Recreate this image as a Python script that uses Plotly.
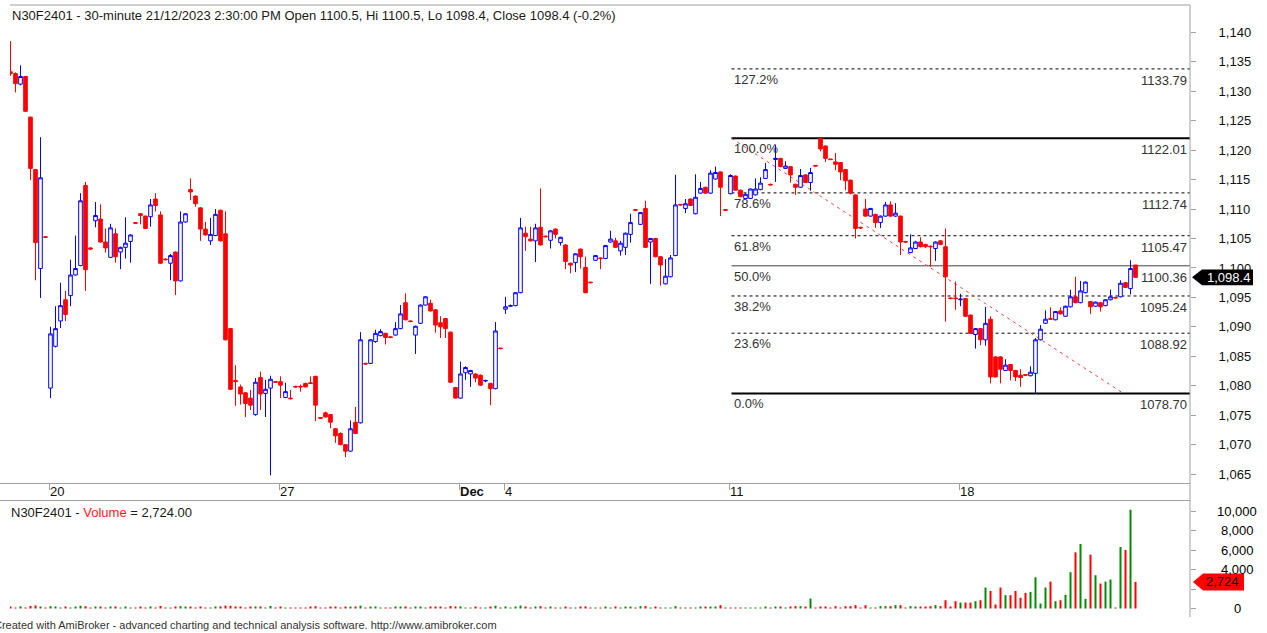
import plotly.graph_objects as go

# ---------------- data ----------------
symbol = "N30F2401"

opens = [
    1133.3, 1133.0, 1131.2, 1132.5, 1125.6, 1116.7, 1099.9, 1105.3,
    1079.6, 1086.7, 1091.0, 1094.6, 1095.3, 1098.8, 1100.4, 1114.0, 1103.4,
    1108.0, 1108.3, 1104.4, 1101.8, 1105.8, 1102.7, 1103.5, 1104.5, 1107.7,
    1109.2, 1108.8, 1108.7, 1111.7, 1109.0, 1101.5, 1100.8, 1102.7, 1097.8,
    1107.8, 1113.3, 1112.2, 1110.2, 1106.6, 1104.6, 1105.5, 1109.8, 1105.8,
    1089.7, 1080.9, 1079.8, 1078.8, 1077.9, 1075.1, 1081.4, 1078.7, 1079.6, 1080.7,
    1080.7, 1078.0, 1077.9, 1079.9, 1079.9, 1080.4, 1080.5, 1081.6, 1074.6,
    1075.4, 1075.1, 1072.7, 1071.9, 1070.0, 1068.9, 1073.8, 1073.7, 1083.8,
    1083.8, 1087.5, 1088.5, 1088.9, 1088.3, 1088.6, 1089.7, 1094.1, 1091.0,
    1088.6, 1090.6, 1093.7, 1094.0, 1092.9, 1090.7, 1091.4, 1089.1, 1079.7,
    1077.9, 1082.2, 1082.0, 1082.0, 1081.8, 1080.8, 1080.4, 1079.5, 1086.4,
    1093.0, 1093.5, 1093.6, 1095.8, 1105.9, 1104.9, 1104.6, 1106.9, 1105.4,
    1104.7, 1106.6, 1104.3, 1103.9, 1100.8, 1100.9, 1103.2, 1100.1, 1097.6,
    1101.3, 1101.7, 1101.6, 1104.4, 1104.6, 1102.9, 1103.5, 1105.7, 1109.9,
    1107.4, 1110.1, 1104.4, 1105.0, 1101.9, 1097.3, 1098.5, 1102.1, 1110.8,
    1110.1, 1111.7, 1109.2, 1112.7, 1113.7, 1112.7, 1115.1, 1116.3, 1109.9,
    1112.6, 1115.6, 1113.2, 1111.8, 1111.8, 1112.4, 1113.3, 1115.2, 1114.2,
    1118.4, 1118.6, 1116.9, 1117.2, 1114.2, 1113.7, 1115.8, 1114.5, 1117.4,
    1122.0, 1120.7, 1118.5, 1118.0, 1117.9, 1116.7, 1114.9, 1112.4, 1106.9,
    1110.0, 1108.8, 1109.1, 1107.7, 1108.8, 1110.7, 1108.8, 1108.8, 1104.5,
    1102.6, 1103.3, 1104.4, 1104.0, 1103.7, 1103.3, 1104.6, 1103.6, 1094.9, 1094.9,
    1094.6, 1094.8, 1092.0, 1088.7, 1089.7, 1087.8, 1091.3, 1084.9, 1084.9,
    1082.6, 1083.6, 1082.6, 1081.8, 1081.9, 1081.7, 1082.1, 1087.8, 1090.6,
    1091.4, 1091.2, 1092.7, 1091.8, 1093.4, 1095.1, 1094.1, 1095.8, 1094.3,
    1093.5, 1094.1, 1093.6, 1094.6, 1095.0, 1095.1, 1097.5, 1096.5, 1100.5,
]

highs = [
    1138.5, 1133.2, 1134.4, 1132.6, 1125.7, 1116.8, 1122.2, 1105.3,
    1090.0, 1093.5, 1097.5, 1096.1, 1101.4, 1105.5, 1112.7, 1114.6, 1103.5,
    1111.2, 1110.8, 1106.7, 1107.5, 1106.7, 1103.6, 1108.6, 1105.7, 1107.7,
    1109.3, 1108.9, 1111.7, 1112.7, 1109.6, 1101.6, 1102.4, 1102.8, 1109.6,
    1109.3, 1115.2, 1112.3, 1110.3, 1107.8, 1108.5, 1110.0, 1109.9, 1109.6,
    1089.8, 1083.5, 1080.2, 1078.9, 1079.3, 1081.3, 1082.4, 1081.0, 1081.7, 1080.8,
    1081.6, 1080.5, 1079.3, 1080.0, 1080.2, 1080.5, 1081.6, 1081.7, 1074.6,
    1075.6, 1075.2, 1072.8, 1072.1, 1070.1, 1074.1, 1076.4, 1089.1, 1083.9,
    1087.9, 1089.5, 1089.6, 1089.0, 1088.4, 1090.8, 1093.7, 1095.7, 1091.1,
    1090.2, 1093.8, 1095.2, 1094.6, 1093.0, 1091.8, 1091.5, 1089.2, 1079.8,
    1084.1, 1083.3, 1082.7, 1082.1, 1081.9, 1081.0, 1080.5, 1090.8, 1086.4,
    1095.1, 1093.8, 1095.9, 1108.5, 1107.0, 1107.0, 1107.5, 1113.5, 1105.5,
    1106.4, 1106.7, 1105.3, 1104.0, 1100.9, 1102.5, 1103.3, 1101.9, 1097.6,
    1102.2, 1101.8, 1103.9, 1106.3, 1105.1, 1104.6, 1106.0, 1109.2, 1110.0,
    1109.5, 1111.4, 1105.1, 1105.1, 1102.0, 1101.5, 1102.2, 1115.8, 1110.8,
    1111.7, 1111.8, 1115.9, 1114.6, 1113.8, 1116.6, 1117.2, 1116.4, 1110.0,
    1115.9, 1115.7, 1113.3, 1112.7, 1113.5, 1115.2, 1115.4, 1117.8, 1114.3,
    1120.9, 1118.7, 1118.1, 1117.3, 1114.3, 1116.8, 1115.9, 1117.0, 1117.4,
    1122.01, 1120.8, 1118.5, 1119.5, 1118.0, 1116.8, 1115.0, 1112.5, 1107.0,
    1111.7, 1110.2, 1109.2, 1108.9, 1111.2, 1111.3, 1111.0, 1108.9, 1104.6,
    1105.7, 1104.6, 1105.2, 1104.1, 1103.8, 1104.5, 1104.7, 1106.7, 1095.0, 1097.7,
    1095.6, 1094.9, 1092.1, 1089.8, 1089.8, 1093.4, 1091.8, 1085.0, 1085.0,
    1084.5, 1083.7, 1082.7, 1082.8, 1082.0, 1083.3, 1088.1, 1090.3, 1092.8,
    1093.3, 1092.7, 1093.3, 1093.6, 1096.3, 1098.5, 1097.8, 1097.7, 1094.4,
    1094.3, 1094.2, 1094.7, 1096.3, 1095.1, 1097.9, 1097.6, 1101.3, 1100.5,
]

lows = [
    1132.6, 1129.8, 1131.0, 1126.5, 1114.9, 1097.9, 1094.9, 1105.1,
    1077.9, 1086.5, 1089.8, 1091.0, 1093.5, 1098.7, 1100.3, 1096.1, 1103.1,
    1106.9, 1104.3, 1102.6, 1101.7, 1100.9, 1099.8, 1101.6, 1100.9, 1107.5,
    1107.4, 1106.6, 1107.0, 1109.6, 1100.7, 1101.3, 1097.9, 1095.4, 1097.7,
    1107.7, 1111.5, 1110.4, 1104.6, 1105.5, 1103.9, 1105.4, 1104.5, 1087.7,
    1079.3, 1076.6, 1076.8, 1074.7, 1075.9, 1074.9, 1075.9, 1074.7, 1064.8, 1080.5,
    1077.9, 1077.9, 1077.7, 1079.7, 1079.0, 1079.7, 1080.3, 1074.0, 1074.4,
    1074.6, 1072.8, 1070.3, 1069.9, 1067.9, 1068.8, 1071.8, 1073.6, 1083.6,
    1083.7, 1087.3, 1088.4, 1087.0, 1088.1, 1088.5, 1089.6, 1091.1, 1090.8,
    1085.4, 1090.5, 1093.6, 1092.6, 1089.0, 1088.1, 1088.1, 1080.5, 1077.8,
    1077.8, 1081.0, 1079.8, 1080.6, 1080.0, 1080.6, 1076.7, 1079.4, 1086.2,
    1092.2, 1093.4, 1093.5, 1095.7, 1102.9, 1104.5, 1101.0, 1103.8, 1105.2,
    1103.3, 1105.0, 1103.8, 1099.8, 1099.1, 1099.3, 1099.9, 1095.7, 1097.4,
    1101.2, 1099.8, 1101.5, 1104.3, 1103.4, 1102.1, 1102.2, 1104.3, 1109.7,
    1107.3, 1103.4, 1097.3, 1101.8, 1097.0, 1097.2, 1098.4, 1102.0, 1110.6,
    1109.3, 1110.5, 1109.1, 1112.6, 1112.6, 1112.6, 1115.0, 1108.8, 1109.7,
    1112.5, 1113.1, 1112.0, 1111.7, 1111.7, 1112.3, 1113.2, 1115.1, 1114.0,
    1114.6, 1117.1, 1116.8, 1114.5, 1112.4, 1113.6, 1114.4, 1113.1, 1117.2,
    1119.8, 1118.0, 1118.3, 1116.6, 1114.9, 1113.2, 1112.5, 1105.0, 1106.6,
    1108.7, 1108.7, 1106.8, 1106.8, 1108.7, 1108.7, 1108.7, 1102.2, 1104.3,
    1102.5, 1103.2, 1103.5, 1103.4, 1100.2, 1101.2, 1103.9, 1090.9, 1094.7, 1092.9,
    1093.5, 1091.7, 1088.8, 1086.3, 1086.9, 1086.8, 1080.4, 1081.4, 1080.4,
    1082.5, 1080.9, 1080.8, 1079.8, 1081.7, 1081.6, 1078.7, 1087.7, 1090.5,
    1091.2, 1091.1, 1092.1, 1091.7, 1093.3, 1094.0, 1094.0, 1095.7, 1092.2,
    1093.4, 1092.6, 1093.5, 1094.5, 1094.8, 1095.0, 1096.6, 1095.5, 1098.4,
]

closes = [
    1133.0, 1131.3, 1132.5, 1126.6, 1116.9, 1104.3, 1115.3, 1105.2,
    1088.8, 1089.7, 1093.6, 1092.1, 1098.8, 1099.9, 1111.4, 1099.7, 1103.2,
    1108.9, 1104.4, 1103.4, 1106.8, 1101.9, 1103.5, 1104.2, 1105.6, 1107.6,
    1108.9, 1106.7, 1110.7, 1110.6, 1100.8, 1101.4, 1102.1, 1097.8, 1107.8,
    1109.2, 1112.9, 1110.9, 1106.6, 1105.6, 1105.7, 1109.1, 1104.6, 1087.8,
    1079.4, 1080.7, 1078.6, 1077.0, 1076.7, 1080.6, 1078.6, 1079.4, 1081.1, 1080.6,
    1080.1, 1079.0, 1077.8, 1079.8, 1079.8, 1079.8, 1080.4, 1076.7, 1074.5,
    1074.7, 1073.8, 1071.5, 1070.0, 1068.9, 1072.7, 1071.9, 1087.8, 1083.7,
    1087.8, 1088.9, 1089.2, 1088.2, 1088.2, 1089.7, 1092.2, 1091.2, 1090.9,
    1090.1, 1093.7, 1095.1, 1092.7, 1090.3, 1090.0, 1089.7, 1080.6, 1077.9,
    1082.0, 1083.1, 1082.6, 1081.3, 1080.1, 1080.9, 1079.5, 1089.3, 1086.3,
    1093.4, 1093.6, 1095.8, 1106.8, 1105.3, 1104.6, 1106.8, 1103.9, 1105.3,
    1106.3, 1105.7, 1105.2, 1101.1, 1100.5, 1102.4, 1101.9, 1095.8, 1097.5,
    1102.1, 1101.6, 1103.8, 1104.9, 1103.5, 1104.2, 1105.9, 1107.7, 1109.8,
    1109.4, 1103.5, 1105.0, 1101.9, 1100.5, 1098.6, 1101.7, 1110.7, 1110.7,
    1110.9, 1110.6, 1112.0, 1113.5, 1112.7, 1116.1, 1116.2, 1113.7, 1109.8,
    1115.7, 1113.2, 1112.1, 1112.5, 1113.4, 1113.4, 1114.4, 1116.7, 1114.1,
    1118.6, 1117.2, 1117.3, 1115.8, 1113.7, 1115.7, 1114.5, 1116.2, 1117.3,
    1120.2, 1118.6, 1118.4, 1117.6, 1116.3, 1114.8, 1112.7, 1106.7, 1106.8,
    1108.8, 1110.1, 1107.7, 1108.8, 1110.7, 1108.8, 1109.3, 1104.4, 1104.4,
    1103.4, 1104.4, 1103.6, 1103.6, 1103.6, 1104.4, 1104.0, 1098.5, 1094.8, 1094.8,
    1094.7, 1091.8, 1088.9, 1089.7, 1087.8, 1090.6, 1081.5, 1081.5, 1082.8,
    1083.5, 1082.6, 1081.5, 1081.4, 1081.8, 1082.3, 1087.8, 1089.6, 1091.3,
    1091.3, 1092.6, 1092.2, 1093.5, 1095.1, 1094.1, 1096.1, 1097.6, 1093.4,
    1094.2, 1093.4, 1094.6, 1095.1, 1094.9, 1097.4, 1096.7, 1099.9, 1098.4,
]

volumes = [
    180, 60, 220, 90, 260, 310, 150, 40,
    240, 120, 90, 200, 70, 150, 280, 230, 30,
    110, 190, 60, 130, 170, 50, 140, 100, 40,
    120, 80, 210, 60, 260, 30, 90, 180, 240,
    110, 150, 70, 120, 60, 100, 160, 220, 300,
    270, 140, 180, 90, 120, 210, 150, 80, 260, 40,
    130, 70, 50, 40, 60, 90, 110, 230, 50,
    100, 140, 120, 90, 180, 150, 160, 290, 60,
    200, 120, 80, 100, 40, 130, 170, 210, 50,
    150, 190, 90, 120, 160, 110, 100, 250, 180,
    220, 100, 80, 110, 90, 40, 150, 280, 70,
    130, 60, 140, 300, 170, 90, 120, 240, 50,
    110, 80, 90, 180, 60, 100, 130, 220, 50,
    100, 60, 120, 80, 110, 90, 140, 170, 40,
    240, 240, 60, 140, 60, 100, 40, 240, 50,
    60, 80, 60, 140, 140, 140, 140, 340, 50,
    60, 40, 80, 40, 60, 50, 40, 140, 30,
    140, 140, 40, 140, 240, 240, 140, 1020, 30,
    140, 140, 40, 240, 40, 240, 240, 340, 40,
    340, 40, 40, 240, 240, 240, 340, 340, 40,
    240, 140, 140, 140, 240, 340, 240, 850, 170, 750,
    610, 610, 610, 750, 850, 2150, 1800, 410, 2150,
    1370, 1370, 1800, 1100, 1600, 1700, 3200, 510, 2150,
    2760, 750, 850, 1400, 3720, 5760, 6620, 990, 5520,
    3410, 2560, 2760, 2970, 60, 6300, 6000, 10130, 2724,
]

day_labels = ["20", "27", "Dec", "4", "11", "18"]
day_start_bars = [8, 54, 90, 99, 144, 190]

fib_labels = ["127.2%", "100.0%", "78.6%", "61.8%", "50.0%", "38.2%", "23.6%", "0.0%"]
fib_values = [1133.79, 1122.01, 1112.74, 1105.47, 1100.36, 1095.24, 1088.92, 1078.70]
fib_anchor_bar = 144.2      # bar where the swing high / Fib drawing starts
trend_end_bar = 222.6       # bar where the red trend line reaches the 0% level

price_ticks = list(range(1065, 1145, 5))
volume_ticks = [0, 2000, 4000, 6000, 8000, 10000]

N = len(closes)
assert len(opens) == len(highs) == len(lows) == len(volumes) == N
bars = list(range(N))

# ---------------- layout geometry ----------------
W, H = 1267, 633
ML, MR, MT, MB = 10, 77, 5, 16
PW, PH = W - ML - MR, H - MT - MB
FONT = "Liberation Sans, Arial, sans-serif"
GRAY = "#a0a0a0"

def fx(px):
    return (px - ML) / PW

def fy(py):
    return (H - MB - py) / PH

X_RANGE = [-0.1, 235.9]
PRICE_RANGE = [1063.49, 1144.64]
VOL_RANGE = [-872, 11077]

RED = "#ff0000"
BLUE = "#0000ff"
GREEN = "#008a00"

vol_colors = [GREEN if c >= o else RED for o, c in zip(opens, closes)]

fig = go.Figure()

fig.add_trace(go.Candlestick(
    x=bars, open=opens, high=highs, low=lows, close=closes,
    increasing=dict(line=dict(color=BLUE, width=1), fillcolor="#ffffff"),
    decreasing=dict(line=dict(color=RED, width=1), fillcolor=RED),
    whiskerwidth=0, xaxis="x", yaxis="y", hoverinfo="skip", showlegend=False,
))

fig.add_trace(go.Bar(
    x=bars, y=volumes, width=0.4, marker=dict(color=vol_colors, line=dict(width=0)),
    xaxis="x2", yaxis="y2", hoverinfo="skip", showlegend=False,
))

shapes = []
annotations = []

# Fibonacci levels
for lab, val in zip(fib_labels, fib_values):
    if lab in ("100.0%", "0.0%"):
        line = dict(color="#000000", width=2)
    elif lab == "50.0%":
        line = dict(color="#404040", width=1)
    else:
        line = dict(color="#000000", width=1, dash="3px,3px")
    shapes.append(dict(type="line", xref="x", yref="y", x0=fib_anchor_bar, x1=X_RANGE[1],
                       y0=val, y1=val, line=line, layer="below"))
    annotations.append(dict(xref="x", yref="y", x=fib_anchor_bar + 0.1, y=val, text=lab,
                            xanchor="left", yanchor="top", showarrow=False, yshift=-1,
                            font=dict(family=FONT, size=13, color="#333333")))
    annotations.append(dict(xref="x", yref="y", x=X_RANGE[1] - 0.3, y=val, text=f"{val:.2f}",
                            xanchor="right", yanchor="top", showarrow=False, yshift=-2,
                            font=dict(family=FONT, size=13, color="#333333")))

# red dashed trend line from swing high to the 0% level
shapes.append(dict(type="line", xref="x", yref="y", x0=fib_anchor_bar, y0=fib_values[1],
                   x1=trend_end_bar, y1=fib_values[-1],
                   line=dict(color="#ff4040", width=1, dash="3px,4px"), layer="below"))

# panel borders
for py, x_start in ((5, 10), (483.5, 0), (500.5, 0)):
    shapes.append(dict(type="line", xref="paper", yref="paper", x0=fx(x_start), x1=1,
                       y0=fy(py), y1=fy(py), line=dict(color=GRAY, width=1)))
shapes.append(dict(type="line", xref="paper", yref="paper", x0=1, x1=1, y0=0, y1=1,
                   line=dict(color=GRAY, width=1)))

# last-price marker (black arrow)
last = closes[-1]
h = 1.33
tip, base, end = fx(1192), fx(1202), fx(1253)
shapes.append(dict(type="path", xref="paper", yref="y", layer="above",
                   path=f"M {tip},{last} L {base},{last + h} L {end},{last + h} "
                        f"L {end},{last - h} L {base},{last - h} Z",
                   fillcolor="#000000", line=dict(width=0)))
annotations.append(dict(xref="paper", yref="y", x=fx(1228), y=last, text=f"{last:,.1f}",
                        showarrow=False, xanchor="center", yanchor="middle",
                        font=dict(family=FONT, size=13, color="#ffffff")))

# last-volume marker (red arrow)
lv = volumes[-1]
hv = 870
tip, base, end = fx(1193), fx(1203), fx(1244)
shapes.append(dict(type="path", xref="paper", yref="y2", layer="above",
                   path=f"M {tip},{lv} L {base},{lv + hv} L {end},{lv + hv} "
                        f"L {end},{lv - hv} L {base},{lv - hv} Z",
                   fillcolor=RED, line=dict(width=0)))
annotations.append(dict(xref="paper", yref="y2", x=fx(1222.5), y=lv, text=f"{lv:,}",
                        showarrow=False, xanchor="center", yanchor="middle",
                        font=dict(family=FONT, size=13, color="#000000")))

# volume axis labels (centred like AmiBroker), 2,000 is hidden by the marker
for v in volume_ticks:
    if v == 2000:
        continue
    annotations.append(dict(xref="paper", yref="y2", x=fx(1237), y=v, text=f"{v:,}",
                            showarrow=False, xanchor="center", yanchor="middle",
                            font=dict(family=FONT, size=13, color="#000000")))

# titles
title = (f"{symbol} - 30-minute 21/12/2023 2:30:00 PM Open {opens[-1]}, Hi {highs[-1]}, "
         f"Lo {lows[-1]}, Close {closes[-1]} (-0.2%)")
annotations.append(dict(xref="paper", yref="paper", x=0, y=fy(6), text=title,
                        xanchor="left", yanchor="top", showarrow=False,
                        font=dict(family=FONT, size=13, color="#1a1a1a")))
annotations.append(dict(xref="paper", yref="paper", x=fx(9), y=fy(502.5),
                        text=f"{symbol} - <span style='color:#ff2020'>Volume</span> = {lv:,.2f}",
                        xanchor="left", yanchor="top", showarrow=False,
                        font=dict(family=FONT, size=13, color="#1a1a1a")))
annotations.append(dict(xref="paper", yref="paper", x=fx(-8), y=fy(625),
                        text="Created with AmiBroker - advanced charting and technical analysis software. "
                             "http://www.amibroker.com",
                        xanchor="left", yanchor="middle", showarrow=False,
                        font=dict(family=FONT, size=11, color="#333333")))

tick_text = [f"<b>{d}</b>" if d == "Dec" else d for d in day_labels]

fig.update_layout(
    width=W, height=H, autosize=False,
    margin=dict(l=ML, r=MR, t=MT, b=MB, pad=0),
    paper_bgcolor="#ffffff", plot_bgcolor="#ffffff",
    showlegend=False, boxgap=0.2, boxgroupgap=0.1,
    shapes=shapes, annotations=annotations,
    xaxis=dict(domain=[0, 1], anchor="y", range=X_RANGE, showgrid=False, zeroline=False,
               showline=False, ticks="outside", ticklen=6, tickcolor=GRAY, tickwidth=1,
               tickvals=[b - 0.2 for b in day_start_bars], ticktext=tick_text,
               ticklabelposition="outside right", ticklabelstandoff=-4,
               tickfont=dict(family=FONT, size=13, color="#111111"),
               rangeslider=dict(visible=False), fixedrange=True),
    xaxis2=dict(domain=[0, 1], anchor="y2", matches="x", range=X_RANGE, showgrid=False,
                zeroline=False, showline=False, showticklabels=False, ticks="",
                rangeslider=dict(visible=False)),
    yaxis=dict(domain=[fy(483), 1], anchor="x", side="right", range=PRICE_RANGE,
               showgrid=False, zeroline=False, showline=False,
               tickvals=price_ticks, ticktext=[f"{v:,}" for v in price_ticks],
               ticks="outside", ticklen=5, tickcolor=GRAY, ticklabelstandoff=20,
               tickfont=dict(family=FONT, size=13, color="#111111"), fixedrange=True),
    yaxis2=dict(domain=[0, fy(500.5)], anchor="x2", side="right", range=VOL_RANGE,
                showgrid=False, zeroline=False, showline=False, tickvals=volume_ticks,
                showticklabels=False, ticks="outside", ticklen=5, tickcolor=GRAY,
                fixedrange=True),
)

fig.write_html(
    "out.html",
    config={"displayModeBar": False},
    post_script="document.body.style.margin='0px'; document.body.style.overflow='hidden';",
)
